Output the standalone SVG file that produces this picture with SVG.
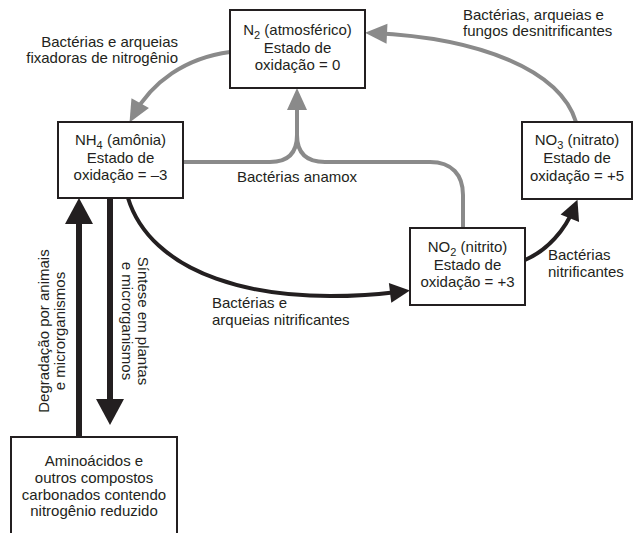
<svg xmlns="http://www.w3.org/2000/svg" width="634" height="533" viewBox="0 0 634 533">
<style>
  .box{fill:#fff;stroke:#231f20;stroke-width:2}
  text{font-family:"Liberation Sans",Arial,sans-serif;font-size:15px;fill:#231f20}
  .c{text-anchor:middle}
  .e{text-anchor:end}
  .g{fill:none;stroke:#8a8a8a;stroke-width:4}
  .k{fill:none;stroke:#231f20;stroke-width:4}
  .kb{fill:none;stroke:#231f20;stroke-width:6}
  .sub{font-size:11px}
</style>
<defs>
  <marker id="ag" markerUnits="userSpaceOnUse" markerWidth="22" markerHeight="20" refX="14" refY="10" orient="auto" overflow="visible">
    <path d="M0,0 L22,10 L0,20 z" fill="#8a8a8a"/>
  </marker>
  <marker id="ak" markerUnits="userSpaceOnUse" markerWidth="20" markerHeight="20" refX="12" refY="10" orient="auto" overflow="visible">
    <path d="M0,0 L20,10 L0,20 z" fill="#231f20"/>
  </marker>
  <marker id="akb" markerUnits="userSpaceOnUse" markerWidth="26" markerHeight="28" refX="18" refY="14" orient="auto" overflow="visible">
    <path d="M0,0 L26,14 L0,28 z" fill="#231f20"/>
  </marker>
</defs>

<g id="connectors">
  <path class="g" d="M230,52 C185,58 152,82 133.4,115.4" marker-end="url(#ag)"/>
  <path class="g" d="M576,122 C560,70 480,38 373,33" marker-end="url(#ag)"/>
  <path class="g" d="M183,162 H270 C289,162 297,152 297,135 V96" marker-end="url(#ag)"/>
  <path class="g" d="M463,228 V195 C463,175 452,162 430,162 H325 C305,162 297,152 297,135"/>
  <path class="k" d="M128,198 C150,270 250,310 402,291.4" marker-end="url(#ak)"/>
  <path class="k" d="M525,260 C548,250 565,230 574.4,207.2" marker-end="url(#ak)"/>
  <path class="kb" d="M79,437 V206" marker-end="url(#akb)"/>
  <path class="kb" d="M110,198 V417" marker-end="url(#akb)"/>
</g>

<g id="n2">
  <rect class="box" x="230" y="10" width="135" height="78"/>
  <text class="c" x="297.5" y="35">N<tspan class="sub" dy="4">2</tspan><tspan dy="-4"> (atmosférico)</tspan></text>
  <text class="c" x="297.5" y="53">Estado de</text>
  <text class="c" x="297.5" y="70">oxidação = 0</text>
</g>

<g id="nh4">
  <rect class="box" x="58" y="122" width="125" height="76"/>
  <text class="c" x="120.5" y="145">NH<tspan class="sub" dy="4">4</tspan><tspan dy="-4"> (amônia)</tspan></text>
  <text class="c" x="120.5" y="163">Estado de</text>
  <text class="c" x="120.5" y="180">oxidação = –3</text>
</g>

<g id="no3">
  <rect class="box" x="522" y="122" width="110" height="77"/>
  <text class="c" x="577" y="145">NO<tspan class="sub" dy="4">3</tspan><tspan dy="-4"> (nitrato)</tspan></text>
  <text class="c" x="577" y="163">Estado de</text>
  <text class="c" x="577" y="181">oxidação = +5</text>
</g>

<g id="no2">
  <rect class="box" x="410" y="228" width="115" height="77"/>
  <text class="c" x="467.5" y="252">NO<tspan class="sub" dy="4">2</tspan><tspan dy="-4"> (nitrito)</tspan></text>
  <text class="c" x="467.5" y="270">Estado de</text>
  <text class="c" x="467.5" y="287">oxidação = +3</text>
</g>

<g id="amino">
  <rect class="box" x="11" y="437" width="166" height="104"/>
  <text class="c" x="94" y="466">Aminoácidos e</text>
  <text class="c" x="94" y="483">outros compostos</text>
  <text class="c" x="94" y="500">carbonados contendo</text>
  <text class="c" x="94" y="516">nitrogênio reduzido</text>
</g>

<g id="labels">
  <text class="e" x="178" y="47">Bactérias e arqueias</text>
  <text class="e" x="178" y="63">fixadoras de nitrogênio</text>
  <text x="463" y="20">Bactérias, arqueias e</text>
  <text x="463" y="36">fungos desnitrificantes</text>
  <text x="237" y="182">Bactérias anamox</text>
  <text x="212" y="308">Bactérias e</text>
  <text x="212" y="325">arqueias nitrificantes</text>
  <text x="548" y="260">Bactérias</text>
  <text x="548" y="277">nitrificantes</text>
  <g transform="translate(49,331) rotate(-90)">
    <text class="c" x="0" y="0">Degradação por animais</text>
    <text class="c" x="0" y="16">e microrganismos</text>
  </g>
  <g transform="translate(138,321) rotate(90)">
    <text class="c" x="0" y="0">Síntese em plantas</text>
    <text class="c" x="0" y="16">e microrganismos</text>
  </g>
</g>
</svg>
